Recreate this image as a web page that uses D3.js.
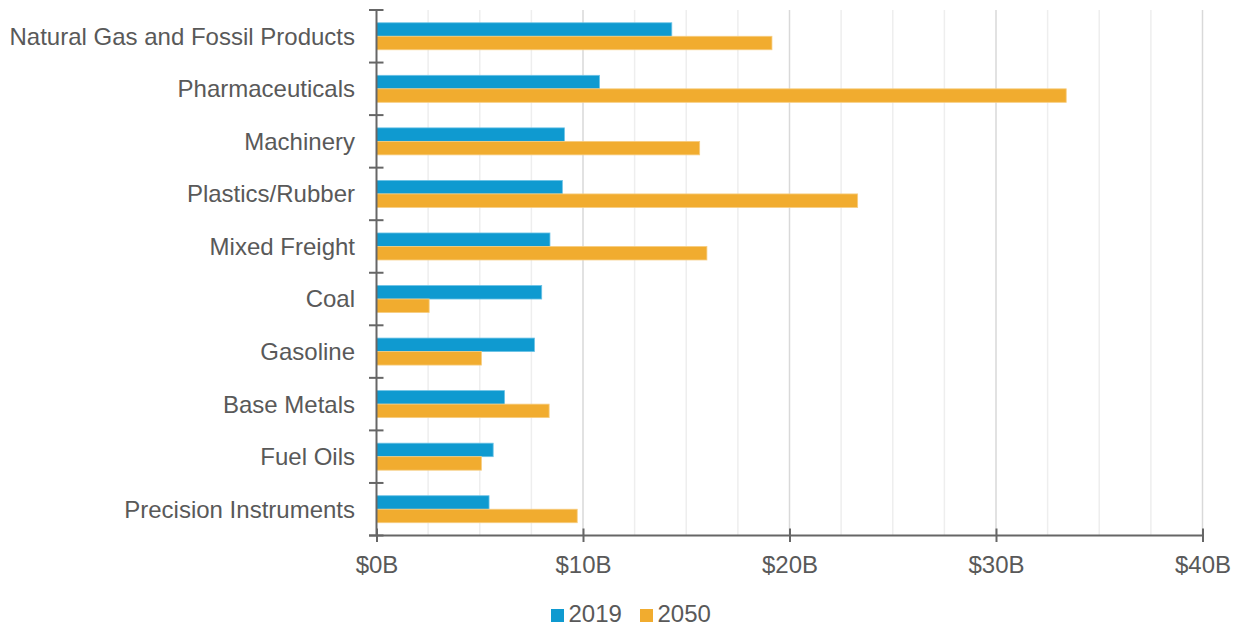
<!DOCTYPE html>
<html>
<head>
<meta charset="utf-8">
<script src="https://cdn.jsdelivr.net/npm/d3@7"></script>
<style>
  html, body { margin: 0; padding: 0; background: #fff; }
  svg { display: block; font-family: "Liberation Sans", Arial, sans-serif; }
</style>
</head>
<body>
<svg id="chart" width="1238" height="629"></svg>
<script>
// Commodity value by category, billions of dollars
const categories = [
  "Natural Gas and Fossil Products",
  "Pharmaceuticals",
  "Machinery",
  "Plastics/Rubber",
  "Mixed Freight",
  "Coal",
  "Gasoline",
  "Base Metals",
  "Fuel Oils",
  "Precision Instruments"
];
const values2019 = [14.3, 10.8, 9.1, 9.0, 8.4, 8.0, 7.65, 6.2, 5.65, 5.45];
const values2050 = [19.15, 33.4, 15.65, 23.3, 16.0, 2.55, 5.08, 8.36, 5.08, 9.72];
const seriesNames = ["2019", "2050"];
const xTicks = [0, 10, 20, 30, 40];

const colors = { "2019": "#0f9ad0", "2050": "#f1ac2f" };
const textColor = "#595959";
const axisColor = "#666666";
const fontSize = "24px";

const svg = d3.select("#chart");
const margin = { left: 376.5, top: 10, bottom: 94 };
const H = 629;
const plotBottom = H - margin.bottom + 0.5;

const x = d3.scaleLinear().domain([0, 40]).range([margin.left, 1202.5]);
const y = d3.scaleBand().domain(categories).range([margin.top, plotBottom]).paddingInner(0).paddingOuter(0);
const inner = d3.scaleBand().domain(seriesNames).range([y.bandwidth() / 2 - 13.5, y.bandwidth() / 2 + 13.5]);

// Grid: minor lines every 2.5B, major every 10B
const minor = d3.range(2.5, 40.01, 2.5).filter(v => v % 10 !== 0);
svg.append("g").selectAll("line").data(minor).join("line")
  .attr("x1", d => x(d)).attr("x2", d => x(d))
  .attr("y1", margin.top).attr("y2", plotBottom)
  .attr("stroke", "#eeeeee").attr("stroke-width", 1.5);
svg.append("g").selectAll("line").data([10, 20, 30, 40]).join("line")
  .attr("x1", d => x(d)).attr("x2", d => x(d))
  .attr("y1", margin.top).attr("y2", plotBottom)
  .attr("stroke", "#d9d9d9").attr("stroke-width", 1.5);

// Bars
const rows = categories.map((c, i) => ({ cat: c, vals: [
  { key: "2019", v: values2019[i] },
  { key: "2050", v: values2050[i] }
]}));
const groups = svg.append("g").selectAll("g").data(rows).join("g")
  .attr("transform", d => `translate(0,${y(d.cat)})`);
groups.selectAll("rect").data(d => d.vals).join("rect")
  .attr("x", x(0))
  .attr("y", d => inner(d.key))
  .attr("width", d => x(d.v) - x(0))
  .attr("height", inner.bandwidth())
  .attr("fill", d => colors[d.key])
  .attr("stroke", d => d.key === "2019" ? "#6cc2e6" : "#f7cd80")
  .attr("stroke-width", 0.8);

// Y axis with ticks at category boundaries
const yAxisG = svg.append("g");
yAxisG.append("line")
  .attr("x1", x(0)).attr("x2", x(0))
  .attr("y1", margin.top).attr("y2", plotBottom)
  .attr("stroke", axisColor).attr("stroke-width", 2);
const bounds = categories.map(c => y(c)).concat([plotBottom]);
yAxisG.selectAll("line.tick").data(bounds).join("line").attr("class", "tick")
  .attr("x1", x(0) - 7.5).attr("x2", x(0) + 7)
  .attr("y1", d => d).attr("y2", d => d)
  .attr("stroke", axisColor).attr("stroke-width", 2);
yAxisG.selectAll("text").data(categories).join("text")
  .attr("x", 355)
  .attr("y", d => y(d) + y.bandwidth() / 2)
  .attr("dy", "0.35em")
  .attr("text-anchor", "end")
  .attr("fill", textColor)
  .attr("font-size", fontSize)
  .text(d => d);

// X axis
const xAxis = d3.axisBottom(x).tickValues(xTicks).tickFormat(d => `$${d}B`).tickSize(7).tickSizeOuter(0);
const xg = svg.append("g").attr("transform", `translate(0,${plotBottom})`).call(xAxis);
xg.select(".domain").attr("stroke", axisColor).attr("stroke-width", 2)
  .attr("d", `M${x(0) - 7.5},0H${x(40)}`);
xg.selectAll(".tick line").attr("stroke", axisColor).attr("stroke-width", 2).attr("y1", -7).attr("y2", 6.5);
xg.selectAll(".tick text").attr("fill", textColor).attr("font-size", fontSize)
  .attr("font-family", "Liberation Sans, Arial, sans-serif").attr("y", 29).attr("dy", "0.35em");

// Legend
const legend = svg.append("g").attr("transform", "translate(551,614)");
const legendItems = [{ k: "2019", dx: 0 }, { k: "2050", dx: 89 }];
const li = legend.selectAll("g").data(legendItems).join("g").attr("transform", d => `translate(${d.dx},0)`);
li.append("rect").attr("x", 0).attr("y", -5).attr("width", 13).attr("height", 13).attr("fill", d => colors[d.k]);
li.append("text").attr("x", 17.5).attr("y", 0).attr("dy", "0.35em")
  .attr("fill", textColor).attr("font-size", fontSize).text(d => d.k);
</script>
</body>
</html>
